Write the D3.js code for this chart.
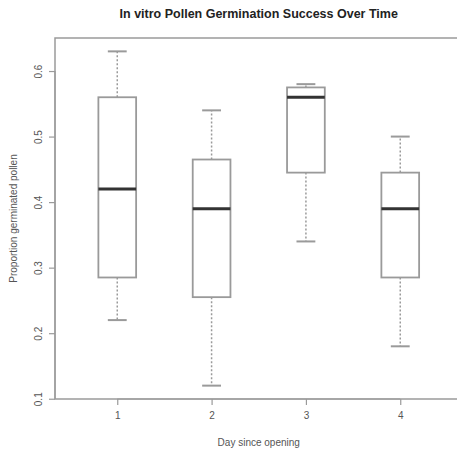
<!DOCTYPE html>
<html>
<head>
<meta charset="utf-8">
<script src="https://cdnjs.cloudflare.com/ajax/libs/d3/7.8.5/d3.min.js"></script>
<style>
  body { margin: 0; background: #fff; }
  text { font-family: "Liberation Sans", Arial, sans-serif; }
</style>
</head>
<body>
<div id="chart"></div>
<script>
// box stats, one entry per day
var days = [1, 2, 3, 4];
var lowWhisker = [0.22, 0.12, 0.34, 0.18];
var q1 = [0.285, 0.255, 0.445, 0.285];
var medians = [0.42, 0.39, 0.56, 0.39];
var q3 = [0.56, 0.465, 0.575, 0.445];
var highWhisker = [0.63, 0.54, 0.58, 0.50];
var yTicks = [0.1, 0.2, 0.3, 0.4, 0.5, 0.6];

var width = 457, height = 452;
var plotLeft = 55, plotTop = 38, plotBottom = 399;

var svg = d3.select("#chart").append("svg")
    .attr("width", width)
    .attr("height", height);

// R style: 0.5..4.5 padded by 4% each side
var x = d3.scaleLinear().domain([0.34, 4.66]).range([plotLeft, plotLeft + 4.32 * 94.33]);
var y = d3.scaleLinear().domain([0.0996, 0.6504]).range([plotBottom, plotTop]);

var boxW = x(1.4) - x(1);
var capW = boxW / 2;
var grey = "#9a9a9a";

// frame
svg.append("rect")
    .attr("x", x(0.34)).attr("y", y(0.6504))
    .attr("width", x(4.66) - x(0.34)).attr("height", y(0.0996) - y(0.6504))
    .attr("fill", "none").attr("stroke", grey).attr("stroke-width", 1.5);

var boxes = svg.selectAll(".box").data(days).enter().append("g").attr("class", "box");

boxes.append("line")
    .attr("x1", function(d) { return x(d); }).attr("x2", function(d) { return x(d); })
    .attr("y1", function(d, i) { return y(q3[i]); }).attr("y2", function(d, i) { return y(highWhisker[i]); })
    .attr("stroke", grey).attr("stroke-width", 1.5).attr("stroke-dasharray", "2,2");
boxes.append("line")
    .attr("x1", function(d) { return x(d); }).attr("x2", function(d) { return x(d); })
    .attr("y1", function(d, i) { return y(q1[i]); }).attr("y2", function(d, i) { return y(lowWhisker[i]); })
    .attr("stroke", grey).attr("stroke-width", 1.5).attr("stroke-dasharray", "2,2");

boxes.append("line")
    .attr("x1", function(d) { return x(d) - capW / 2; }).attr("x2", function(d) { return x(d) + capW / 2; })
    .attr("y1", function(d, i) { return y(highWhisker[i]); }).attr("y2", function(d, i) { return y(highWhisker[i]); })
    .attr("stroke", grey).attr("stroke-width", 2);
boxes.append("line")
    .attr("x1", function(d) { return x(d) - capW / 2; }).attr("x2", function(d) { return x(d) + capW / 2; })
    .attr("y1", function(d, i) { return y(lowWhisker[i]); }).attr("y2", function(d, i) { return y(lowWhisker[i]); })
    .attr("stroke", grey).attr("stroke-width", 2);

boxes.append("rect")
    .attr("x", function(d) { return x(d) - boxW / 2; })
    .attr("y", function(d, i) { return y(q3[i]); })
    .attr("width", boxW)
    .attr("height", function(d, i) { return y(q1[i]) - y(q3[i]); })
    .attr("fill", "#fff").attr("stroke", grey).attr("stroke-width", 1.8);

boxes.append("line")
    .attr("x1", function(d) { return x(d) - boxW / 2; }).attr("x2", function(d) { return x(d) + boxW / 2; })
    .attr("y1", function(d, i) { return y(medians[i]); }).attr("y2", function(d, i) { return y(medians[i]); })
    .attr("stroke", "#333").attr("stroke-width", 3);

// axes
var yAxis = svg.append("g").attr("transform", "translate(" + plotLeft + ",0)")
    .call(d3.axisLeft(y).tickValues(yTicks).tickSize(6).tickFormat(d3.format(".1f")));
yAxis.select(".domain").attr("d", "M0," + y(0.1) + "V" + y(0.6)).attr("stroke", grey).attr("stroke-width", 1.2);
yAxis.selectAll(".tick line").attr("stroke", grey).attr("stroke-width", 1.2);
yAxis.selectAll(".tick text")
    .attr("transform", "rotate(-90)")
    .attr("x", 0).attr("y", -13).attr("dy", 0)
    .attr("text-anchor", "middle")
    .attr("fill", "#555").style("font-size", "10px").style("font-family", "Liberation Sans, Arial, sans-serif");

var xAxis = svg.append("g").attr("transform", "translate(0," + plotBottom + ")")
    .call(d3.axisBottom(x).tickValues(days).tickSize(6).tickFormat(d3.format("d")));
xAxis.select(".domain").attr("d", "M" + x(1) + ",0H" + x(4)).attr("stroke", grey).attr("stroke-width", 1.2);
xAxis.selectAll(".tick line").attr("stroke", grey).attr("stroke-width", 1.2);
xAxis.selectAll(".tick text")
    .attr("y", 20).attr("dy", 0)
    .attr("fill", "#555").style("font-size", "10px").style("font-family", "Liberation Sans, Arial, sans-serif");

// titles
var cx = (x(0.34) + x(4.66)) / 2;
svg.append("text").attr("x", cx).attr("y", 18).attr("text-anchor", "middle")
    .attr("fill", "#222").style("font-size", "12.5px").style("font-weight", "bold")
    .text("In vitro Pollen Germination Success Over Time");
svg.append("text").attr("x", cx).attr("y", 446).attr("text-anchor", "middle")
    .attr("fill", "#555").style("font-size", "10px")
    .text("Day since opening");
svg.append("text")
    .attr("transform", "translate(17," + (plotTop + plotBottom) / 2 + ") rotate(-90)")
    .attr("text-anchor", "middle")
    .attr("fill", "#555").style("font-size", "10px")
    .text("Proportion germinated pollen");
</script>
</body>
</html>
